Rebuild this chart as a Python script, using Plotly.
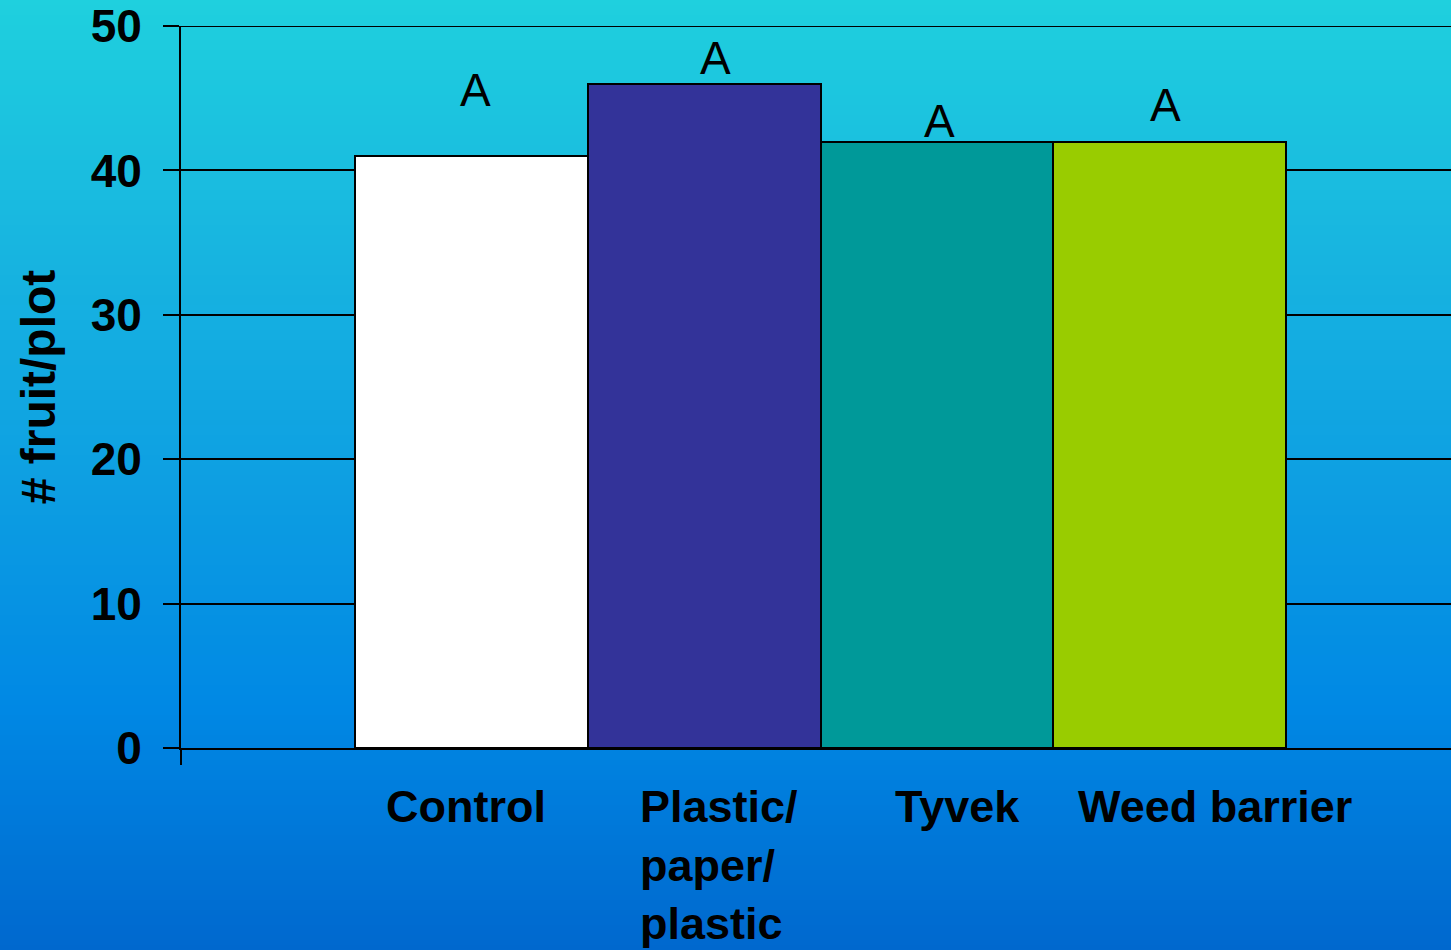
import plotly.graph_objects as go

# Data
categories = ["Control", "Plastic/<br>paper/<br>plastic", "Tyvek", "Weed barrier"]
fruit_per_plot = [41, 46, 42, 42]
bar_colors = ["#FFFFFF", "#333399", "#009999", "#99CC00"]
letters = ["A", "A", "A", "A"]
y_ticks = [0, 10, 20, 30, 40, 50]

W, H = 1451, 950
L, R, T, B = 181, 0, 26, 202

x_pos = list(range(1, len(categories) + 1))
x_range = [-0.247, 5.208]

fig = go.Figure()
fig.add_trace(go.Bar(
    x=x_pos, y=fruit_per_plot, width=1.0,
    marker=dict(color=bar_colors, line=dict(color="black", width=2)),
    hoverinfo="skip", showlegend=False,
))

# vertical gradient background built from thin bands
stops = [(0, (31, 208, 222)), (240, (24, 182, 224)), (490, (13, 158, 226)),
         (710, (0, 136, 228)), (950, (0, 104, 206))]

def color_at(py):
    for (y0, c0), (y1, c1) in zip(stops[:-1], stops[1:]):
        if y0 <= py <= y1:
            f = (py - y0) / (y1 - y0)
            return "rgb(%d,%d,%d)" % tuple(round(a + (b - a) * f) for a, b in zip(c0, c1))
    return "rgb(%d,%d,%d)" % stops[-1][1]

pw, ph = W - L - R, H - T - B
def px_to_paper_y(py):
    return (H - B - py) / ph

shapes = []
band = 5
for py in range(0, H, band):
    shapes.append(dict(
        type="rect", xref="paper", yref="paper", layer="below",
        x0=-L / pw - 0.01, x1=1.01,
        y0=px_to_paper_y(py + band + 1), y1=px_to_paper_y(py),
        fillcolor=color_at(py + band / 2), line=dict(width=0),
    ))
# small tick below the origin on the left edge
shapes.append(dict(type="line", xref="paper", yref="paper", x0=0, x1=0,
                   y0=0, y1=-17 / ph, line=dict(color="black", width=2)))
# top gridline at the axis maximum
shapes.append(dict(type="line", xref="paper", yref="y", x0=0, x1=1,
                   y0=y_ticks[-1], y1=y_ticks[-1], line=dict(color="black", width=2)))

annotations = []
# significance letters
letter_y = [45.6, 47.8, 43.4, 44.5]
letter_x = [1.02, 2.05, 3.01, 3.98]
for lx, ly, t in zip(letter_x, letter_y, letters):
    annotations.append(dict(x=lx, y=ly, xref="x", yref="y", text=t, showarrow=False,
                            font=dict(family="Liberation Sans, Arial", size=46, color="black"),
                            xanchor="center", yanchor="middle"))

# category labels
label_x = [0.977, 1.716, 3.09, 4.195]
label_anchor = ["center", "left", "center", "center"]
for cx, anc, cat in zip(label_x, label_anchor, categories):
    annotations.append(dict(x=cx, y=-31 / ph, xref="x", yref="paper", text="<b>%s</b>" % cat,
                            showarrow=False, align="left", xanchor=anc, yanchor="top",
                            font=dict(family="Liberation Sans, Arial", size=45, color="black")))

fig.update_layout(
    width=W, height=H,
    margin=dict(l=L, r=R, t=T, b=B, pad=0),
    paper_bgcolor="rgba(0,0,0,0)", plot_bgcolor="rgba(0,0,0,0)",
    bargap=0, shapes=shapes, annotations=annotations,
    xaxis=dict(range=x_range, showticklabels=False, showgrid=False, zeroline=False,
               showline=True, linecolor="black", linewidth=2, ticks=""),
    yaxis=dict(range=[0, 50], tickvals=y_ticks, ticktext=["<b>%d</b>" % v for v in y_ticks],
               showgrid=True, gridcolor="black", gridwidth=2, zeroline=False,
               showline=True, linecolor="black", linewidth=2,
               ticks="outside", ticklen=16, tickcolor="black", tickwidth=2,
               ticklabelstandoff=12,
               tickfont=dict(family="Liberation Sans, Arial", size=46, color="black"),
               title=dict(text="<b># fruit/plot</b>", standoff=20,
                          font=dict(family="Liberation Sans, Arial", size=48, color="black"))),
)

fig.write_html("out.html")
